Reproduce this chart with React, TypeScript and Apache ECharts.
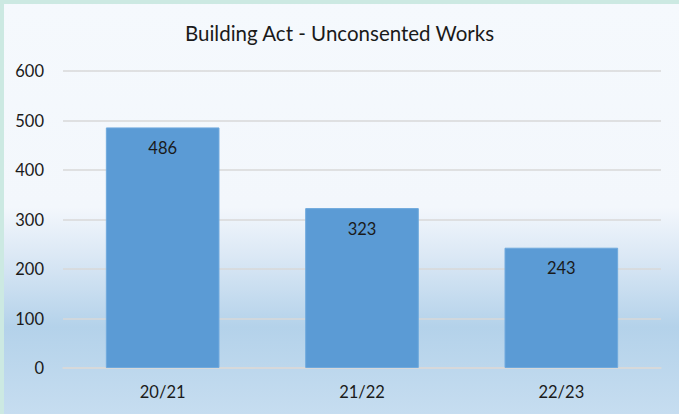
import React, { useEffect, useRef } from "react";
import * as echarts from "echarts";

const titleText = "Building Act - Unconsented Works";
const categories = ["20/21", "21/22", "22/23"];
const values = [486, 323, 243];
const yTicks = { min: 0, max: 600, interval: 100 };

const FONT = "Lato, 'Open Sans', sans-serif";

export default function App() {
  const ref = useRef<HTMLDivElement>(null);
  useEffect(() => {
    document.body.style.margin = "0";
    if (!ref.current) return;
    const chart = echarts.init(ref.current, undefined, { renderer: "svg" });
    chart.setOption({
      animation: false,
      backgroundColor: new echarts.graphic.LinearGradient(0, 0, 0, 1, [
        { offset: 0, color: "#f5f9fd" },
        { offset: 0.5, color: "#f3f7fc" },
        { offset: 0.62, color: "#dbe8f5" },
        { offset: 0.79, color: "#b4d2ea" },
        { offset: 1, color: "#c6ddf0" },
      ]),
      graphic: [
        { type: "rect", left: 0, top: 0, shape: { width: 679, height: 4 }, style: { fill: "#cce9e2" }, silent: true },
        { type: "rect", left: 0, top: 0, shape: { width: 4, height: 414 }, style: { fill: "#cce9e2" }, silent: true },
      ],
      title: {
        text: titleText,
        left: "center",
        top: 17,
        textStyle: { fontFamily: FONT, fontSize: 20.5, fontWeight: "normal", color: "#1a1a1a" },
      },
      grid: { left: 63, right: 18, top: 71, bottom: 46 },
      xAxis: {
        type: "category",
        data: categories,
        axisLine: { show: true, lineStyle: { color: "#d9d9d9", width: 1.5 } },
        axisTick: { show: false },
        axisLabel: { fontFamily: FONT, fontSize: 16.5, color: "#1a1a1a", margin: 15 },
      },
      yAxis: {
        type: "value",
        min: yTicks.min,
        max: yTicks.max,
        interval: yTicks.interval,
        axisLine: { show: false },
        axisTick: { show: false },
        splitLine: { lineStyle: { color: "#d9d9d9", width: 1.5 } },
        axisLabel: { fontFamily: FONT, fontSize: 16.5, color: "#1a1a1a", margin: 19 },
      },
      series: [
        {
          type: "bar",
          data: values,
          barWidth: "57%",
          itemStyle: { color: "#5b9bd5", borderColor: "#6fa9dd", borderWidth: 1 },
          label: {
            show: true,
            position: "insideTop",
            distance: 12,
            fontFamily: FONT,
            fontSize: 16.5,
            color: "#1a1a1a",
          },
        },
      ],
    });
    return () => chart.dispose();
  }, []);
  return <div ref={ref} style={{ width: 679, height: 414 }} />;
}
